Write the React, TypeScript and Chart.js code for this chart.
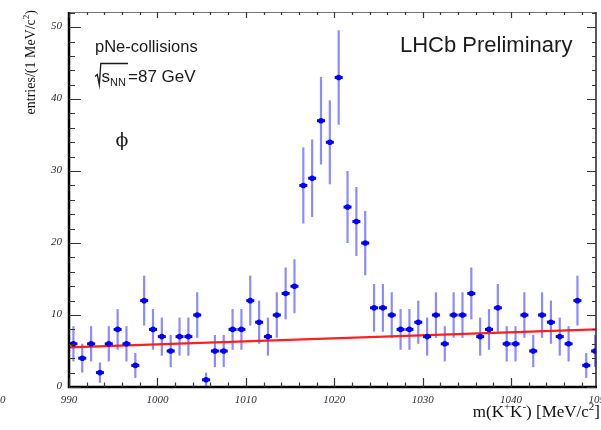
import { useEffect, useRef } from "react";
import { Chart, registerables } from "chart.js";

Chart.register(...registerables);

// K+K- invariant mass, 1 MeV/c^2 bins (bin centres)
const massBins = [
  990.5, 991.5, 992.5, 993.5, 994.5, 995.5, 996.5, 997.5, 998.5, 999.5,
  1000.5, 1001.5, 1002.5, 1003.5, 1004.5, 1005.5, 1006.5, 1007.5, 1008.5, 1009.5,
  1010.5, 1011.5, 1012.5, 1013.5, 1014.5, 1015.5, 1016.5, 1017.5, 1018.5, 1019.5,
  1020.5, 1021.5, 1022.5, 1023.5, 1024.5, 1025.5, 1026.5, 1027.5, 1028.5, 1029.5,
  1030.5, 1031.5, 1032.5, 1033.5, 1034.5, 1035.5, 1036.5, 1037.5, 1038.5, 1039.5,
  1040.5, 1041.5, 1042.5, 1043.5, 1044.5, 1045.5, 1046.5, 1047.5, 1048.5, 1049.5,
];

// entries per bin
const entries = [
  6, 4, 6, 2, 6, 8, 6, 3, 12, 8,
  7, 5, 7, 7, 10, 1, 5, 5, 8, 8,
  12, 9, 7, 10, 13, 14, 28, 29, 37, 34,
  43, 25, 23, 20, 11, 11, 10, 8, 8, 9,
  7, 10, 6, 10, 10, 13, 7, 8, 11, 6,
  6, 10, 5, 10, 9, 7, 6, 12, 3, 5,
];

// linear background component of the fit
const fitMass = [990, 1049.6];
const fitEntries = [5.5, 8.0];

// axis ranges and labelled ticks
const xMin = 990;
const xMax = 1049.6;
const yMin = 0;
const yMax = 52.1;
const xTickValues = [990, 1000, 1010, 1020, 1030, 1040, 1050];
const yTickValues = [0, 10, 20, 30, 40, 50];

type Seg = { t: string; sup?: boolean; sub?: boolean };

function drawRich(
  ctx: CanvasRenderingContext2D,
  segs: Seg[],
  x: number,
  y: number,
  size: number,
  family: string,
  align: "left" | "right"
) {
  const fontFor = (s: Seg) =>
    `${s.sup || s.sub ? Math.round(size * 0.62) : size}px ${family}`;
  let total = 0;
  for (const s of segs) {
    ctx.font = fontFor(s);
    total += ctx.measureText(s.t).width;
  }
  let cx = align === "right" ? x - total : x;
  ctx.textAlign = "left";
  ctx.textBaseline = "alphabetic";
  for (const s of segs) {
    ctx.font = fontFor(s);
    const dy = s.sup ? -size * 0.42 : s.sub ? size * 0.22 : 0;
    ctx.fillText(s.t, cx, y + dy);
    cx += ctx.measureText(s.t).width;
  }
}

const errorBarsPlugin = {
  id: "errorBars",
  beforeDatasetsDraw(chart: any) {
    const { ctx, scales } = chart;
    const xs = scales.x;
    const ys = scales.y;
    ctx.save();
    ctx.beginPath();
    ctx.rect(chart.chartArea.left, chart.chartArea.top, chart.chartArea.width, chart.chartArea.height);
    ctx.clip();
    ctx.strokeStyle = "rgba(100, 100, 255, 0.75)";
    ctx.lineWidth = 2.2;
    for (let i = 0; i < massBins.length; i++) {
      const n = entries[i];
      const err = Math.sqrt(n);
      const px = xs.getPixelForValue(massBins[i]);
      ctx.beginPath();
      ctx.moveTo(px, ys.getPixelForValue(Math.max(0, n - err)));
      ctx.lineTo(px, ys.getPixelForValue(n + err));
      ctx.stroke();
    }
    ctx.restore();
  },
  afterDatasetsDraw(chart: any) {
    const { ctx, scales } = chart;
    const xs = scales.x;
    const ys = scales.y;
    ctx.save();
    ctx.beginPath();
    ctx.rect(chart.chartArea.left, chart.chartArea.top, chart.chartArea.width, chart.chartArea.height);
    ctx.clip();
    ctx.strokeStyle = "#0000ff";
    ctx.lineWidth = 3;
    for (let i = 0; i < massBins.length; i++) {
      const px = xs.getPixelForValue(massBins[i]);
      const py = ys.getPixelForValue(entries[i]);
      ctx.beginPath();
      ctx.moveTo(px - 4, py);
      ctx.lineTo(px + 4, py);
      ctx.stroke();
    }
    ctx.restore();
  },
};

const framePlugin = {
  id: "rootFrame",
  afterDraw(chart: any) {
    const { ctx, chartArea, scales } = chart;
    const { left, right, top, bottom } = chartArea;
    const xs = scales.x;
    const ys = scales.y;
    ctx.save();

    // frame
    ctx.strokeStyle = "#777";
    ctx.lineWidth = 1;
    ctx.beginPath();
    ctx.moveTo(left, top + 0.5);
    ctx.lineTo(right, top + 0.5);
    ctx.stroke();
    ctx.strokeStyle = "#222";
    ctx.lineWidth = 1.5;
    ctx.beginPath();
    ctx.moveTo(right, top);
    ctx.lineTo(right, bottom);
    ctx.stroke();
    ctx.strokeStyle = "#000";
    ctx.lineWidth = 2.5;
    ctx.beginPath();
    ctx.moveTo(left, top);
    ctx.lineTo(left, bottom);
    ctx.lineTo(right + 1, bottom);
    ctx.stroke();

    // x ticks (bottom and top, pointing inwards)
    ctx.lineWidth = 1.2;
    ctx.strokeStyle = "#333";
    for (let v = 990; v <= 1048; v += 2) {
      const px = Math.round(xs.getPixelForValue(v)) + 0.5;
      const major = (v - 990) % 10 === 0;
      ctx.beginPath();
      ctx.moveTo(px, bottom);
      ctx.lineTo(px, bottom - (major ? 9 : 4.5));
      ctx.moveTo(px, top);
      ctx.lineTo(px, top + (major ? 6 : 3));
      ctx.stroke();
    }
    // y ticks (left and right, pointing inwards)
    for (let v = 0; v <= 52; v += 2) {
      const py = Math.round(ys.getPixelForValue(v)) + 0.5;
      const major = v % 10 === 0;
      ctx.beginPath();
      ctx.moveTo(left, py);
      ctx.lineTo(left + (major ? 12 : 6), py);
      ctx.moveTo(right, py);
      ctx.lineTo(right - (major ? 9 : 4), py);
      ctx.stroke();
    }

    // tick labels
    ctx.fillStyle = "#2a2a3a";
    ctx.font = 'italic 11px "Liberation Serif", serif';
    ctx.textAlign = "center";
    ctx.textBaseline = "middle";
    for (const v of xTickValues) {
      ctx.fillText(String(v), xs.getPixelForValue(v), 400);
    }
    ctx.textAlign = "left";
    ctx.fillText("0", 0, 400);
    ctx.textAlign = "right";
    for (const v of yTickValues) {
      ctx.fillText(String(v), left - 7, ys.getPixelForValue(v) - 1);
    }

    // axis titles
    ctx.fillStyle = "#111";
    const serif = '"Liberation Serif", "Times New Roman", serif';
    drawRich(
      ctx,
      [{ t: "m(K" }, { t: "+", sup: true }, { t: "K" }, { t: "-", sup: true }, { t: ") [MeV/c" }, { t: "2", sup: true }, { t: "]" }],
      600,
      417,
      17,
      serif,
      "right"
    );
    ctx.save();
    ctx.translate(35, 10);
    ctx.rotate(-Math.PI / 2);
    drawRich(
      ctx,
      [{ t: "entries/(1 MeV/c" }, { t: "2", sup: true }, { t: ")" }],
      0,
      0,
      14,
      serif,
      "right"
    );
    ctx.restore();

    // annotations
    const sans = '"Liberation Sans", Arial, Helvetica, sans-serif';
    ctx.fillStyle = "#1a1a1a";
    drawRich(ctx, [{ t: "pNe-collisions" }], 95, 51.5, 16.5, sans, "left");

    // square root sign over s_NN
    ctx.strokeStyle = "#1a1a1a";
    ctx.lineWidth = 1.3;
    ctx.beginPath();
    ctx.moveTo(95, 76.5);
    ctx.lineTo(97.3, 74.5);
    ctx.lineTo(99.3, 85);
    ctx.lineTo(100.8, 63.5);
    ctx.lineTo(128, 63.5);
    ctx.stroke();
    drawRich(ctx, [{ t: "s" }, { t: "NN", sub: true }], 101.5, 82, 17, sans, "left");
    drawRich(ctx, [{ t: "=87 GeV" }], 128, 82, 17, sans, "left");

    drawRich(ctx, [{ t: "LHCb Preliminary" }], 400, 51.5, 22, sans, "left");

    ctx.font = '19px "DejaVu Serif", serif';
    ctx.textAlign = "center";
    ctx.textBaseline = "middle";
    ctx.fillText("\u03d5", 122, 141);

    ctx.restore();
  },
};

export default function App() {
  const canvasRef = useRef<HTMLCanvasElement | null>(null);

  useEffect(() => {
    document.body.style.margin = "0";
    const canvas = canvasRef.current;
    if (!canvas) return;

    const chart = new Chart(canvas, {
      type: "scatter",
      data: {
        datasets: [
          {
            label: "data",
            data: massBins.map((m, i) => ({ x: m, y: entries[i] })),
            backgroundColor: "#0000ff",
            borderWidth: 0,
            pointRadius: 2.8,
            pointHoverRadius: 2.8,
          },
          {
            type: "line",
            label: "background",
            data: fitMass.map((m, i) => ({ x: m, y: fitEntries[i] })),
            borderColor: "rgba(255, 20, 20, 0.95)",
            borderWidth: 2.4,
            pointRadius: 0,
            fill: false,
          },
        ],
      } as any,
      options: {
        animation: false,
        responsive: false,
        maintainAspectRatio: false,
        events: [],
        layout: { padding: { left: 69, top: 12, right: 5, bottom: 43 } },
        plugins: {
          legend: { display: false },
          tooltip: { enabled: false },
        },
        scales: {
          x: { type: "linear", min: xMin, max: xMax, display: false },
          y: { type: "linear", min: yMin, max: yMax, display: false },
        },
      },
      plugins: [errorBarsPlugin, framePlugin],
    });

    return () => chart.destroy();
  }, []);

  return (
    <canvas
      ref={canvasRef}
      width={601}
      height={430}
      style={{ display: "block", width: 601, height: 430 }}
    />
  );
}
